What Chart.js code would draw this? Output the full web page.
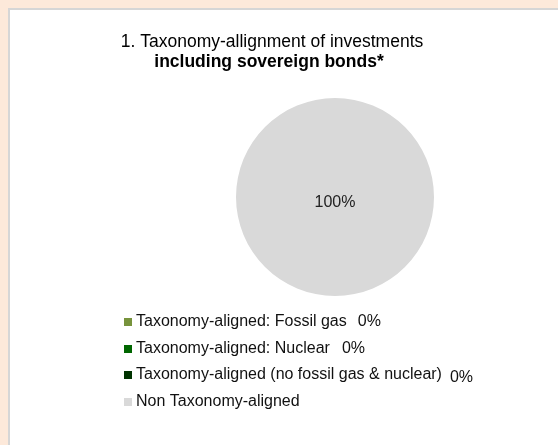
<!DOCTYPE html>
<html>
<head>
<meta charset="utf-8">
<script src="https://cdn.jsdelivr.net/npm/chart.js@4"></script>
<style>
  html, body { margin: 0; padding: 0; }
  body { width: 558px; height: 445px; background: #fde9da; overflow: hidden; position: relative; }
  #panel { position: absolute; left: 8px; top: 8px; width: 550px; height: 437px;
           background: #fff; border-left: 2px solid #d6d6d6; border-top: 2px solid #d6d6d6; box-sizing: border-box; }
  #wrap { position: absolute; left: 0; top: 0; width: 548px; height: 435px; }
</style>
</head>
<body>
<div id="panel"><div id="wrap"><canvas id="chart"></canvas></div></div>
<script>
const titleLines = ['1. Taxonomy-allignment of investments', 'including sovereign bonds*'];
const labels = [
    'Taxonomy-aligned: Fossil gas',
    'Taxonomy-aligned: Nuclear',
    'Taxonomy-aligned (no fossil gas & nuclear)',
    'Non Taxonomy-aligned'
];
const values = [0, 0, 0, 100];
const colors = ['#77933c', '#006600', '#003300', '#d9d9d9'];
const showValue = [true, true, true, false];

const FONT = 'Arial, "Liberation Sans", sans-serif';

// title, slice labels and the list legend under the pie
const extras = {
    id: 'extras',
    afterDraw(chart) {
        const ctx = chart.ctx;
        ctx.save();
        ctx.fillStyle = '#000';
        ctx.textAlign = 'center';
        ctx.textBaseline = 'middle';
        ctx.font = '17.5px ' + FONT;
        ctx.fillText(titleLines[0], 262, 32);
        ctx.font = 'bold 17.5px ' + FONT;
        ctx.fillText(titleLines[1], 259, 52);

        // value labels on slices
        const meta = chart.getDatasetMeta(0);
        const total = values.reduce((a, b) => a + b, 0);
        ctx.font = '16px ' + FONT;
        ctx.fillStyle = '#222';
        meta.data.forEach((arc, i) => {
            if (!values[i]) return;
            let p;
            if (values[i] === total) {
                p = {x: arc.x, y: arc.y + 6};
            } else {
                p = arc.tooltipPosition();
            }
            ctx.fillText(Math.round(values[i] / total * 100) + '%', p.x, p.y);
        });

        // legend
        ctx.textAlign = 'left';
        ctx.font = '16px ' + FONT;
        const x0 = 114, y0 = 312, step = 26.7;
        const gaps = [11, 12, 8];
        labels.forEach((lab, i) => {
            const y = Math.round(y0 + i * step);
            ctx.fillStyle = colors[i];
            ctx.fillRect(x0, y - 4, 8, 8);
            ctx.fillStyle = '#111';
            ctx.fillText(lab, x0 + 12, y);
            if (showValue[i]) {
                const w = ctx.measureText(lab).width;
                const pct = total ? Math.round(values[i] / total * 100) : 0;
                ctx.fillText(pct + '%', x0 + 12 + w + gaps[i], y + (i === 2 ? 3 : 0));
            }
        });
        ctx.restore();
    }
};

const ctx = document.getElementById('chart').getContext('2d');
const chart = new Chart(ctx, {
    type: 'pie',
    data: {
        labels: labels,
        datasets: [{
            data: values,
            backgroundColor: colors,
            borderWidth: 0
        }]
    },
    options: {
        responsive: true,
        maintainAspectRatio: false,
        animation: false,
        layout: {
            padding: {left: 226, right: 124, top: 88, bottom: 149}
        },
        plugins: {
            legend: {display: false},
            title: {display: false},
            tooltip: {enabled: false}
        }
    },
    plugins: [extras]
});
</script>
</body>
</html>
